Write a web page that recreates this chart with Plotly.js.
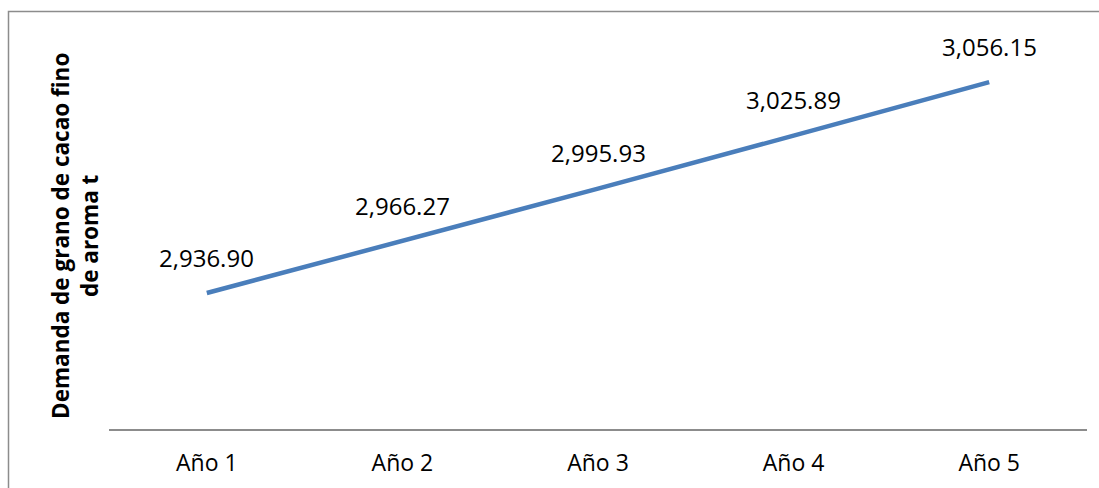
<!DOCTYPE html>
<html>
<head>
<meta charset="utf-8">
<script src="https://cdn.plot.ly/plotly-3.0.1.min.js"></script>
<style>
html,body{margin:0;padding:0;background:#fff;}
#chart{width:1099px;height:488px;}
</style>
</head>
<body>
<div id="chart"></div>
<script>
const categories = ["Año 1", "Año 2", "Año 3", "Año 4", "Año 5"];
const demanda = [2936.90, 2966.27, 2995.93, 3025.89, 3056.15];
const labels = ["2,936.90", "2,966.27", "2,995.93", "3,025.89", "3,056.15"];
const yTitle = "Demanda de grano de cacao fino<br>de aroma t";

const W = 1099, H = 488;
const m = {l: 109, r: 12, t: 40, b: 59};
const pw = W - m.l - m.r, ph = H - m.t - m.b;
const px = x => (x - m.l) / pw;
const py = y => (H - m.b - y) / ph;

const trace = {
  x: categories,
  y: demanda,
  type: 'scatter',
  mode: 'lines',
  line: {color: '#4A7EBB', width: 4.5},
  hoverinfo: 'none'
};

const annotations = categories.map((c, i) => ({
  x: c, y: demanda[i], xref: 'x', yref: 'y',
  text: labels[i], showarrow: false,
  yanchor: 'middle', xanchor: 'center', yshift: 36,
  font: {family: 'Open Sans', size: 24, color: '#000'}
}));
annotations.push({
  xref: 'paper', yref: 'paper', x: px(75), y: py(236),
  text: yTitle, textangle: -90, showarrow: false,
  xanchor: 'center', yanchor: 'middle',
  font: {family: 'Open Sans', size: 22.5, color: '#000', weight: 'bold'}
});

const layout = {
  width: W, height: H,
  margin: m,
  paper_bgcolor: '#fff', plot_bgcolor: '#fff',
  showlegend: false,
  xaxis: {
    type: 'category', range: [-0.5, 4.5],
    showgrid: false, zeroline: false,
    showline: true, linecolor: '#8C8C8C', linewidth: 1.5,
    ticks: '', ticklen: 0, ticklabelstandoff: 13,
    tickfont: {family: 'Open Sans', size: 23, color: '#000'},
    fixedrange: true
  },
  yaxis: {
    range: [2860, 3080],
    showgrid: false, zeroline: false, showline: false,
    showticklabels: false, ticks: '', fixedrange: true
  },
  annotations: annotations,
  shapes: [{
    type: 'rect', xref: 'paper', yref: 'paper', layer: 'below',
    x0: px(8.5), x1: px(1110), y0: py(500), y1: py(11.5),
    line: {color: '#8C8C8C', width: 1.5}, fillcolor: 'rgba(0,0,0,0)'
  }]
};

Plotly.newPlot('chart', [trace], layout, {displayModeBar: false, staticPlot: true});
</script>
</body>
</html>
